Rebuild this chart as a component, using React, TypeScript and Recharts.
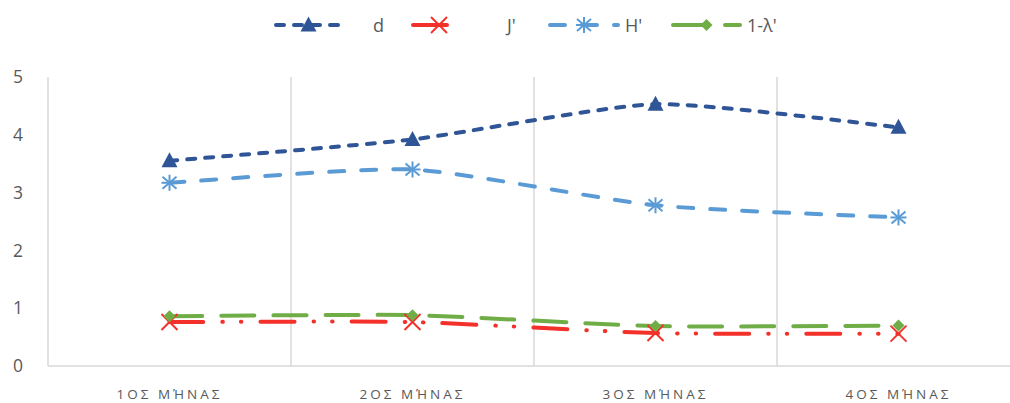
import React from 'react';
import { LineChart, Line, XAxis, YAxis, CartesianGrid } from 'recharts';

// Categories and series values
const months = ['1ΟΣ ΜΉΝΑΣ', '2ΟΣ ΜΉΝΑΣ', '3ΟΣ ΜΉΝΑΣ', '4ΟΣ ΜΉΝΑΣ'];
const dValues = [3.55, 3.92, 4.53, 4.13];
const jValues = [0.76, 0.76, 0.57, 0.56];
const hValues = [3.17, 3.4, 2.78, 2.57];
const lambdaValues = [0.86, 0.88, 0.69, 0.7];
const yTicks = [0, 1, 2, 3, 4, 5];

const data = months.map((m, i) => ({
  month: m,
  d: dValues[i],
  J: jValues[i],
  H: hValues[i],
  L: lambdaValues[i],
}));

const FONT = '"Open Sans", "Noto Sans", sans-serif';
const TEXT = '#595959';
const GRID = '#D9D9D9';

type MarkerKind = 'triangle' | 'x' | 'star' | 'diamond';

const renderMarker = (kind: MarkerKind, cx: number, cy: number, color: string, key?: string) => {
  if (cx == null || cy == null || isNaN(cx) || isNaN(cy)) return <g key={key} />;
  switch (kind) {
    case 'triangle':
      return (
        <polygon
          key={key}
          points={`${cx},${cy - 8.5} ${cx + 8},${cy + 6.5} ${cx - 8},${cy + 6.5}`}
          fill={color}
        />
      );
    case 'x':
      return (
        <g key={key} stroke={color} strokeWidth={2}>
          <line x1={cx - 8} y1={cy - 8} x2={cx + 8} y2={cy + 8} />
          <line x1={cx - 8} y1={cy + 8} x2={cx + 8} y2={cy - 8} />
        </g>
      );
    case 'star':
      return (
        <g key={key} stroke={color} strokeWidth={2}>
          <line x1={cx} y1={cy - 8} x2={cx} y2={cy + 8} />
          <line x1={cx - 7} y1={cy - 6} x2={cx + 7} y2={cy + 6} />
          <line x1={cx - 7} y1={cy + 6} x2={cx + 7} y2={cy - 6} />
          <line x1={cx - 8} y1={cy} x2={cx + 8} y2={cy} />
        </g>
      );
    default:
      return (
        <polygon
          key={key}
          points={`${cx},${cy - 6} ${cx + 6},${cy} ${cx},${cy + 6} ${cx - 6},${cy}`}
          fill={color}
        />
      );
  }
};

const series = [
  { key: 'd', name: 'd', color: '#2F5597', dash: '8 10', marker: 'triangle' as MarkerKind },
  { key: 'J', name: "J'", color: '#F3302A', dash: '34 19 0.5 18 0.5 19', marker: 'x' as MarkerKind },
  { key: 'H', name: "H'", color: '#5B9BD5', dash: '15 17', marker: 'star' as MarkerKind },
  { key: 'L', name: "1-λ'", color: '#70AD47', dash: '33 19', marker: 'diamond' as MarkerKind },
];

// Legend layout: sample line span and label start for each entry
const legendSlots = [
  { x1: 274, x2: 343, tx: 373 },
  { x1: 411, x2: 467, tx: 507 },
  { x1: 548, x2: 620, tx: 625 },
  { x1: 671, x2: 742, tx: 747 },
];

// Gently smoothed curve built from cubic Bézier segments
const SMOOTH = 1 / 10;
const smoothCurve = (context: any) => {
  let pts: [number, number][] = [];
  return {
    areaStart() {},
    areaEnd() {},
    lineStart() {
      pts = [];
    },
    point(x: number, y: number) {
      pts.push([+x, +y]);
    },
    lineEnd() {
      if (!pts.length) return;
      context.moveTo(pts[0][0], pts[0][1]);
      for (let i = 0; i < pts.length - 1; i++) {
        const p0 = pts[i - 1] || pts[i];
        const p1 = pts[i];
        const p2 = pts[i + 1];
        const p3 = pts[i + 2] || p2;
        context.bezierCurveTo(
          p1[0] + (p2[0] - p0[0]) * SMOOTH,
          p1[1] + (p2[1] - p0[1]) * SMOOTH,
          p2[0] - (p3[0] - p1[0]) * SMOOTH,
          p2[1] - (p3[1] - p1[1]) * SMOOTH,
          p2[0],
          p2[1]
        );
      }
    },
  };
};

const MonthTick = (props: any) => {
  const { x, y, payload } = props;
  return (
    <text
      x={x}
      y={y}
      dy={21}
      textAnchor="middle"
      fill={TEXT}
      fontSize={13.5}
      fontFamily={FONT}
      style={{ letterSpacing: '3px' }}
    >
      {payload.value}
    </text>
  );
};

const Legend = () => (
  <svg width={1010} height={50} style={{ position: 'absolute', left: 0, top: 0 }}>
    {series.map((s, i) => {
      const slot = legendSlots[i];
      const cy = 25;
      const cx = (slot.x1 + slot.x2) / 2;
      return (
        <g key={s.key}>
          <line
            x1={slot.x1 + 2}
            y1={cy}
            x2={slot.x2 - 2}
            y2={cy}
            stroke={s.color}
            strokeWidth={4}
            strokeDasharray={s.dash}
            strokeLinecap="round"
          />
          {renderMarker(s.marker, cx, cy, s.color)}
          <text
            x={slot.tx}
            y={cy}
            dy={6.5}
            fontSize={18}
            fill={TEXT}
            fontFamily={FONT}
          >
            {s.name}
          </text>
        </g>
      );
    })}
  </svg>
);

export default function App() {
  return (
    <div
      style={{
        position: 'fixed',
        left: 0,
        top: 0,
        width: 1010,
        height: 403,
        overflow: 'hidden',
        background: '#fff',
      }}
    >
      <LineChart
        width={1030}
        height={403}
        data={data}
        margin={{ top: 77, right: 10, bottom: 0, left: 0 }}
      >
        <CartesianGrid
          horizontal={false}
          stroke={GRID}
          strokeWidth={1.5}
          verticalCoordinatesGenerator={({ offset }: any) =>
            [0, 1, 2, 3, 4].map((i) => offset.left + (i * offset.width) / months.length)
          }
        />
        <XAxis
          dataKey="month"
          scale="band"
          height={37}
          axisLine={{ stroke: GRID, strokeWidth: 1.5 }}
          tickLine={false}
          tickSize={0}
          tickMargin={12}
          tick={<MonthTick />}
          interval={0}
        />
        <YAxis
          width={48}
          domain={[0, 5]}
          ticks={yTicks}
          axisLine={false}
          tickLine={false}
          tickSize={0}
          tickMargin={25}
          tick={{ fill: TEXT, fontSize: 17.5, fontFamily: FONT }}
        />
        {series.map((s) => (
          <Line
            key={s.key}
            dataKey={s.key}
            name={s.name}
            type={smoothCurve as any}
            stroke={s.color}
            strokeWidth={4}
            strokeDasharray={s.dash}
            strokeLinecap="round"
            isAnimationActive={false}
            dot={(p: any) => renderMarker(s.marker, p.cx, p.cy, s.color, `${s.key}-${p.index}`)}
            activeDot={false}
          />
        ))}
      </LineChart>
      <Legend />
    </div>
  );
}
